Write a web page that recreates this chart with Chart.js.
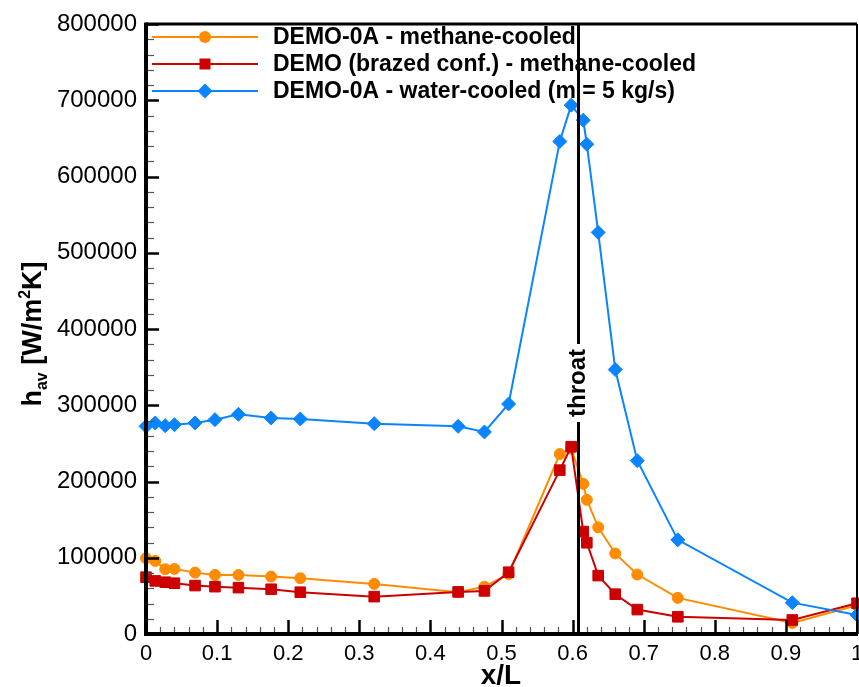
<!DOCTYPE html>
<html>
<head>
<meta charset="utf-8">
<script src="https://cdn.jsdelivr.net/npm/chart.js@4.4.1/dist/chart.umd.min.js"></script>
<style>
  html, body { margin: 0; padding: 0; background: #fff; }
  #wrap { width: 859px; height: 687px; }
</style>
</head>
<body>
<div id="wrap"><canvas id="c" width="859" height="687"></canvas></div>
<script>
// x/L stations (same for all three cases)
const xL = [0, 0.013, 0.027, 0.04, 0.069, 0.097, 0.13, 0.176, 0.217, 0.321, 0.439, 0.476, 0.51,
  0.582, 0.598, 0.615, 0.62, 0.636, 0.66, 0.691, 0.748, 0.909, 1.0];

// h_av [W/m2K]
const demo0aMethane = [99400, 95900, 85000, 85400, 80500, 77500, 77500, 75300, 73200, 65700, 54800, 62100, 78400,
  236000, 243000, 197000, 176000, 139900, 105600, 78000, 47400, 14500, 37700];
const demoBrazed = [74500, 69600, 67900, 66600, 63500, 62100, 60800, 58700, 54800, 49000, 55200, 56500, 81000,
  214900, 245600, 134300, 119700, 76600, 52200, 32000, 22600, 18400, 40300];
const demo0aWater = [272300, 276800, 273200, 274500, 276800, 281100, 288100, 283300, 282000, 275900, 272300, 265000, 301700,
  646000, 693600, 673900, 642300, 526700, 346800, 227300, 123500, 41100, 25000];

const seriesLabels = [
  "DEMO-0A - methane-cooled",
  "DEMO (brazed conf.) - methane-cooled",
  "DEMO-0A - water-cooled (m = 5 kg/s)"
];
const throatX = 0.607;

const ORANGE = "#ff8c00", RED = "#cc0000", BLUE = "#0a84ff";
const FONT = "'Liberation Sans', Arial, sans-serif";

const toPts = ys => ys.map((y, i) => ({ x: xL[i], y }));

// legend, frame, ticks, throat marker and axis titles
const decorations = {
  id: "decorations",
  afterDatasetsDraw(chart) {
    const { ctx, chartArea: a, scales: { x, y } } = chart;
    ctx.save();

    // minor / major tick marks, pointing inward
    for (let v = 0; v <= 800000; v += 20000) {
      const py = Math.round(y.getPixelForValue(v)) + 0.5;
      const major = v % 100000 === 0;
      ctx.lineWidth = major ? 2.5 : 1.2;
      ctx.strokeStyle = major ? "#000" : "#555";
      ctx.beginPath();
      ctx.moveTo(a.left, py);
      ctx.lineTo(a.left + (major ? 13 : 8), py);
      ctx.stroke();
    }
    for (let i = 0; i <= 50; i++) {
      const px = Math.round(x.getPixelForValue(i / 50)) + 0.5;
      const major = i % 5 === 0;
      ctx.lineWidth = major ? 2.5 : 1.2;
      ctx.strokeStyle = major ? "#000" : "#555";
      ctx.beginPath();
      ctx.moveTo(px, a.bottom);
      ctx.lineTo(px, a.bottom - (major ? 14 : 7));
      ctx.stroke();
    }

    // frame
    ctx.strokeStyle = "#000";
    ctx.lineWidth = 3;
    ctx.beginPath(); ctx.moveTo(a.left, a.top); ctx.lineTo(a.right, a.top); ctx.stroke();
    ctx.lineWidth = 2;
    ctx.beginPath(); ctx.moveTo(a.right, a.top); ctx.lineTo(a.right, a.bottom); ctx.stroke();
    ctx.lineWidth = 4;
    ctx.beginPath(); ctx.moveTo(a.left, a.top - 1.5); ctx.lineTo(a.left, a.bottom + 2); ctx.stroke();
    ctx.beginPath(); ctx.moveTo(a.left - 2, a.bottom); ctx.lineTo(a.right + 1, a.bottom); ctx.stroke();

    // legend
    const rows = [37, 64, 91];
    const styles = [
      { c: ORANGE, m: "circle" },
      { c: RED, m: "square" },
      { c: BLUE, m: "diamond" }
    ];
    ctx.font = "bold 23px " + FONT;
    ctx.textBaseline = "middle";
    ctx.textAlign = "left";
    rows.forEach((ry, i) => {
      const s = styles[i];
      ctx.strokeStyle = s.c;
      ctx.fillStyle = s.c;
      ctx.lineWidth = 2;
      ctx.beginPath(); ctx.moveTo(152, ry); ctx.lineTo(258, ry); ctx.stroke();
      ctx.beginPath();
      if (s.m === "circle") ctx.arc(205, ry, 6, 0, Math.PI * 2);
      if (s.m === "square") ctx.rect(199.5, ry - 5.5, 11, 11);
      if (s.m === "diamond") {
        ctx.moveTo(205, ry - 7.5); ctx.lineTo(212.5, ry); ctx.lineTo(205, ry + 7.5); ctx.lineTo(197.5, ry);
        ctx.closePath();
      }
      ctx.fill();
      ctx.fillStyle = "#000";
      ctx.fillText(seriesLabels[i], 273, ry + 1);
    });

    // throat line with rotated label
    const tx = Math.round(x.getPixelForValue(throatX)) + 0.5;
    ctx.strokeStyle = "#000";
    ctx.lineWidth = 3;
    ctx.beginPath();
    ctx.moveTo(tx, a.top); ctx.lineTo(tx, 344);
    ctx.moveTo(tx, 422); ctx.lineTo(tx, a.bottom);
    ctx.stroke();
    ctx.save();
    ctx.translate(tx, 383);
    ctx.rotate(-Math.PI / 2);
    ctx.font = "bold 24px " + FONT;
    ctx.fillStyle = "#000";
    ctx.textAlign = "center";
    ctx.textBaseline = "middle";
    ctx.fillText("throat", 0, 0);
    ctx.restore();

    // x title
    ctx.font = "bold 28px " + FONT;
    ctx.fillStyle = "#000";
    ctx.textAlign = "center";
    ctx.textBaseline = "alphabetic";
    ctx.fillText("x/L", 501, 684);

    // y title: h_av [W/m^2K]
    const big = "bold 27px " + FONT, small = "bold 16px " + FONT;
    const parts = [
      { t: "h", f: big, dy: 0 },
      { t: "av", f: small, dy: 6 },
      { t: " [W/m", f: big, dy: 0 },
      { t: "2", f: small, dy: -11 },
      { t: "K]", f: big, dy: 0 }
    ];
    let total = 0;
    parts.forEach(p => { ctx.font = p.f; p.w = ctx.measureText(p.t).width; total += p.w; });
    ctx.save();
    ctx.translate(41, 334);
    ctx.rotate(-Math.PI / 2);
    ctx.textAlign = "left";
    let cx = -total / 2;
    parts.forEach(p => { ctx.font = p.f; ctx.fillText(p.t, cx, p.dy); cx += p.w; });
    ctx.restore();

    ctx.restore();
  }
};

const ds = (label, data, color, style, radius, order) => ({
  label,
  data: toPts(data),
  showLine: true,
  borderColor: color,
  backgroundColor: color,
  borderWidth: 2,
  pointStyle: style,
  pointRadius: radius,
  pointHoverRadius: radius,
  pointBorderWidth: 1,
  pointBackgroundColor: color,
  pointBorderColor: color,
  tension: 0,
  clip: false,
  order
});

new Chart(document.getElementById("c"), {
  type: "scatter",
  data: {
    datasets: [
      ds(seriesLabels[0], demo0aMethane, ORANGE, "circle", 5.5, 3),
      ds(seriesLabels[1], demoBrazed, RED, "rect", 7.5, 2),
      ds(seriesLabels[2], demo0aWater, BLUE, "rectRot", 7, 1)
    ]
  },
  options: {
    responsive: false,
    animation: false,
    layout: { autoPadding: false, padding: { top: 24, right: 2, left: 0, bottom: 0 } },
    plugins: {
      legend: { display: false },
      tooltip: { enabled: false }
    },
    scales: {
      x: {
        type: "linear",
        min: 0,
        max: 1,
        grid: { display: false, drawTicks: false },
        border: { display: false },
        afterFit: s => { s.height = 53; s.paddingLeft = 0; s.paddingRight = 0; },
        ticks: {
          stepSize: 0.1,
          autoSkip: false,
          maxRotation: 0,
          padding: 7,
          color: "#000",
          font: { family: FONT, size: 22 },
          callback: v => String(Number(v.toFixed(1)))
        }
      },
      y: {
        type: "linear",
        min: 0,
        max: 800000,
        grid: { display: false, drawTicks: false },
        border: { display: false },
        afterFit: s => { s.width = 146; s.paddingTop = 0; s.paddingBottom = 0; },
        ticks: {
          stepSize: 100000,
          padding: 9,
          color: "#000",
          font: { family: FONT, size: 24 },
          callback: v => String(v)
        }
      }
    }
  },
  plugins: [decorations]
});
</script>
</body>
</html>
